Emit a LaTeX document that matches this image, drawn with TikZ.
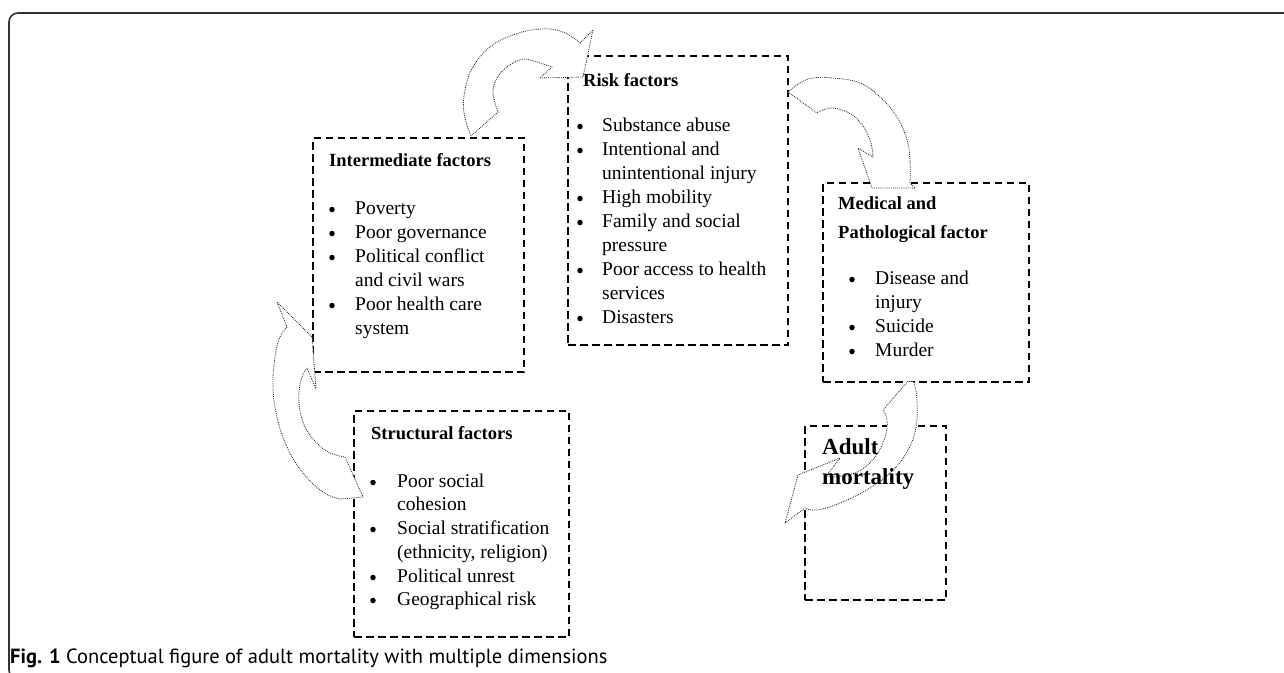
\documentclass[tikz,border=0pt]{standalone}
\usepackage{fontspec}
\setmainfont{Liberation Serif}
\newfontfamily\capfont{PT Sans}
\begin{document}
\begin{tikzpicture}[x=1pt,y=-1pt,
  box/.style={draw=black, line width=1.4pt, dash pattern=on 7.5pt off 4.5pt, inner sep=0pt, outer sep=0pt, anchor=north west},
  arr/.style={draw=black!90, fill=white, line width=0.8pt, dash pattern=on 0.8pt off 1.1pt, line join=round},
  hd/.style={anchor=base west, inner sep=0pt, font=\fontsize{18.5}{22}\selectfont\bfseries},
  bighd/.style={anchor=base west, inner sep=0pt, font=\fontsize{23}{27}\selectfont\bfseries},
  it/.style={anchor=base west, inner sep=0pt, font=\fontsize{19.5}{24}\selectfont},
  bl/.style={circle, fill=black, inner sep=0pt, minimum size=5.5pt}]
\useasboundingbox (0,0) rectangle (1284,672);
\draw[line width=1.6pt, black!80, rounded corners=9pt] (9,13) rectangle (1310,679);

% boxes
\node[box, minimum width=211pt, minimum height=234pt] (inter) at (313,138) {};
\node[box, minimum width=220pt, minimum height=289pt] (risk) at (568,56) {};
\node[box, minimum width=206pt, minimum height=199pt] (med) at (823,183) {};
\node[box, minimum width=215pt, minimum height=226pt] (struct) at (354,411) {};
\node[box, minimum width=141pt, minimum height=174pt] (adult) at (805,426) {};

% arrows
\path[arr] (471,136) -- plot[smooth, tension=0.7] coordinates {(471,136) (464,113) (465,90) (473,67) (490,47) (513,35) (540,29) (563,32) (580,43)}
  -- (593,30) -- (583,77) -- (540,78)
  -- plot[smooth, tension=0.7] coordinates {(552,67) (530,60) (520,60) (507,67) (497,78) (493,93) (498,112)} -- cycle;
\path[arr] (788,92) -- plot[smooth, tension=0.7] coordinates {(788,92) (800,83) (813,78) (833,78) (860,83) (880,97) (897,117) (907,140) (910,160) (910,183)}
  -- (915,188) -- (872,188) -- (858,148)
  -- plot[smooth, tension=0.7] coordinates {(873,157) (870,140) (860,122) (847,112) (830,108) (817,113)} -- cycle;
\path[arr] (363,497) -- (340,499)
  -- plot[smooth, tension=0.7] coordinates {(340,499) (323,492) (303,473) (287,447) (277,417) (273,387) (275,357) (280,337) (287,327)}
  -- (277,302) -- (312,337) -- (316,389) -- (307,368)
  -- plot[smooth, tension=0.7] coordinates {(307,368) (301,380) (299,403) (305,427) (317,443) (330,453) (345,457)} -- cycle;
\path[arr] (914,382) -- plot[smooth, tension=0.7] coordinates {(914,382) (917,400) (916,427) (908,450) (893,470) (870,488) (840,503) (817,510) (805,508)}
  -- (785,523) -- (798,475) -- (840,458) -- (827,475)
  -- plot[smooth, tension=0.7] coordinates {(827,475) (833,477) (857,472) (875,457) (885,437) (887,420) (883,410)} -- (908,381) -- cycle;

% Intermediate
\node[hd] (ih) at (329,166) {Intermediate factors};
\node[bl] (ib1) at (332,209.5) {};
\node[bl] (ib2) at (332,233.5) {};
\node[bl] (ib3) at (332,257.5) {};
\node[bl] (ib4) at (332,305.5) {};
\node[it] (it1) at (355,214) {Poverty};
\node[it] (it2) at (355,238) {Poor governance};
\node[it] (it3) at (355,262) {Political conflict};
\node[it] (it4) at (355,286) {and civil wars};
\node[it] (it5) at (355,310) {Poor health care};
\node[it] (it6) at (355,334) {system};

% Risk
\node[hd] (rh) at (583,86) {Risk factors};
\node[bl] (rb1) at (580,126.5) {};
\node[bl] (rb2) at (580,150.5) {};
\node[bl] (rb3) at (580,198.5) {};
\node[bl] (rb4) at (580,222.5) {};
\node[bl] (rb5) at (580,270.5) {};
\node[bl] (rb6) at (580,318.5) {};
\node[it] (rt1) at (602,131) {Substance abuse};
\node[it] (rt2) at (602,155) {Intentional and};
\node[it] (rt3) at (602,179) {unintentional injury};
\node[it] (rt4) at (602,203) {High mobility};
\node[it] (rt5) at (602,227) {Family and social};
\node[it] (rt6) at (602,251) {pressure};
\node[it] (rt7) at (602,275) {Poor access to health};
\node[it] (rt8) at (602,299) {services};
\node[it] (rt9) at (602,323) {Disasters};

% Medical
\node[hd] (mh1) at (838,209) {Medical and};
\node[hd] (mh2) at (838,238) {Pathological factor};
\node[bl] (mb1) at (852,279.5) {};
\node[bl] (mb2) at (852,327.5) {};
\node[bl] (mb3) at (852,351.5) {};
\node[it] (mt1) at (875,284) {Disease and};
\node[it] (mt2) at (875,308) {injury};
\node[it] (mt3) at (875,332) {Suicide};
\node[it] (mt4) at (875,356) {Murder};

% Structural
\node[hd] (sh) at (371,439) {Structural factors};
\node[bl] (sb1) at (373,482.5) {};
\node[bl] (sb2) at (373,529.5) {};
\node[bl] (sb3) at (373,577.5) {};
\node[bl] (sb4) at (373,600.5) {};
\node[it] (st1) at (397,487) {Poor social};
\node[it] (st2) at (397,510) {cohesion};
\node[it] (st3) at (397,534) {Social stratification};
\node[it] (st4) at (397,558) {(ethnicity, religion)};
\node[it] (st5) at (397,582) {Political unrest};
\node[it] (st6) at (397,605) {Geographical risk};

% Adult
\node[bighd] (ah1) at (822,454) {Adult};
\node[bighd] (ah2) at (822,484) {mortality};

% caption
\node[anchor=base west, inner sep=0pt, font=\capfont\fontsize{20.5}{24}\selectfont] (cap) at (10,663) {\textbf{Fig. 1} Conceptual figure of adult mortality with multiple dimensions};
\end{tikzpicture}
\end{document}
